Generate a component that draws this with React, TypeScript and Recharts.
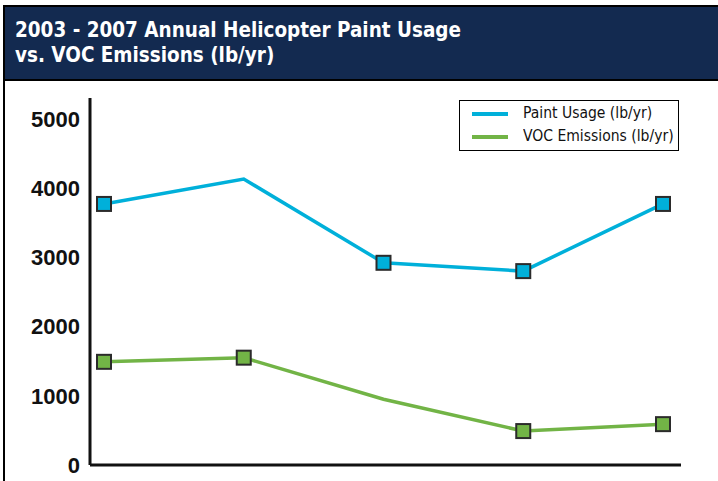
import React from "react";
import { LineChart, Line, XAxis, YAxis, Legend } from "recharts";

const years = ["2003", "2004", "2005", "2006", "2007"];
const paintUsage = [3770, 4130, 2920, 2800, 3770];
const vocEmissions = [1490, 1550, 950, 490, 590];
const paintMarkers = [true, false, true, true, true];
const vocMarkers = [true, true, false, true, true];
const yTicks = [0, 1000, 2000, 3000, 4000, 5000];

const titleLine1 = "2003 - 2007 Annual Helicopter Paint Usage";
const titleLine2 = "vs. VOC Emissions (lb/yr)";
const paintName = "Paint Usage (lb/yr)";
const vocName = "VOC Emissions (lb/yr)";

const BLUE = "#00B0DA";
const GREEN = "#72B446";
const NAVY = "#132A50";

const data = years.map((y, i) => ({
  year: y,
  paint: paintUsage[i],
  voc: vocEmissions[i],
}));

const makeDot = (markers: boolean[], color: string) => (props: any) => {
  const { cx, cy, index } = props;
  if (!markers[index] || cx == null || cy == null) {
    return <g key={`d-${color}-${index}`} />;
  }
  return (
    <rect
      key={`d-${color}-${index}`}
      x={cx - 7}
      y={cy - 7}
      width={14}
      height={14}
      fill={color}
      stroke="#2b2b2b"
      strokeWidth={2}
    />
  );
};

const narrow = "'Liberation Sans Narrow', 'DejaVu Sans Condensed', 'Arial Narrow', sans-serif";

const renderLegend = () => (
  <div
    style={{
      width: 220,
      height: 51,
      boxSizing: "border-box",
      border: "1.5px solid #000",
      background: "#fff",
      position: "relative",
      fontFamily: narrow,
      fontSize: 16,
      color: "#111",
    }}
  >
    {[
      { name: paintName, color: BLUE, top: 14 },
      { name: vocName, color: GREEN, top: 37 },
    ].map((it) => (
      <div key={it.name}>
        <div
          style={{
            position: "absolute",
            left: 12,
            top: it.top - 2 - 1.5,
            width: 36,
            height: 4,
            background: it.color,
          }}
        />
        <div
          style={{
            position: "absolute",
            left: 63,
            top: it.top - 11 - 1.5,
            lineHeight: "20px",
            whiteSpace: "nowrap",
            transform: "scaleX(0.97)",
            transformOrigin: "left center",
          }}
        >
          {it.name}
        </div>
      </div>
    ))}
  </div>
);

export default function App() {
  return (
    <div
      style={{
        position: "absolute",
        left: 0,
        top: 0,
        width: 718,
        height: 481,
        background: "#fff",
        overflow: "hidden",
      }}
    >
      <div
        style={{
          position: "absolute",
          left: 3,
          top: 5,
          width: 715,
          height: 76,
          boxSizing: "border-box",
          borderTop: "2px solid #000",
          borderLeft: "2px solid #000",
          borderBottom: "2px solid #000",
          background: NAVY,
          color: "#fff",
          fontFamily: narrow,
          fontWeight: "bold",
          fontSize: 22,
          lineHeight: "25px",
          paddingLeft: 10,
          paddingTop: 10,
        }}
      >
        <div style={{ whiteSpace: "nowrap", transform: "scaleX(0.93)", transformOrigin: "left center" }}>
          {titleLine1}
        </div>
        <div style={{ whiteSpace: "nowrap", transform: "scaleX(0.93)", transformOrigin: "left center" }}>
          {titleLine2}
        </div>
      </div>
      <div
        style={{
          position: "absolute",
          left: 3,
          top: 79,
          width: 2,
          height: 402,
          background: "#000",
        }}
      />
      <div style={{ position: "absolute", left: 0, top: 0 }}>
        <LineChart
          width={718}
          height={481}
          data={data}
          margin={{ top: 98, right: 37, bottom: 15, left: 0 }}
        >
          <XAxis
            dataKey="year"
            height={1}
            tick={false}
            tickLine={false}
            padding={{ left: 14, right: 18 }}
            axisLine={{ stroke: "#111", strokeWidth: 3 }}
          />
          <YAxis
            width={90}
            domain={[0, 5300]}
            ticks={yTicks}
            interval={0}
            tickLine={false}
            tickMargin={4}
            axisLine={{ stroke: "#111", strokeWidth: 3 }}
            tick={{
              fill: "#111",
              fontSize: 22,
              fontFamily: "'Liberation Sans', Arial, sans-serif",
              fontWeight: "bold",
            }}
          />
          <Legend
            layout="horizontal"
            verticalAlign="middle"
            align="center"
            content={renderLegend}
            wrapperStyle={{ left: 459, top: 100, width: 220, height: 51 }}
          />
          <Line
            type="linear"
            dataKey="paint"
            name={paintName}
            stroke={BLUE}
            strokeWidth={3.5}
            dot={makeDot(paintMarkers, BLUE)}
            activeDot={false}
            isAnimationActive={false}
          />
          <Line
            type="linear"
            dataKey="voc"
            name={vocName}
            stroke={GREEN}
            strokeWidth={3.5}
            dot={makeDot(vocMarkers, GREEN)}
            activeDot={false}
            isAnimationActive={false}
          />
        </LineChart>
      </div>
    </div>
  );
}
